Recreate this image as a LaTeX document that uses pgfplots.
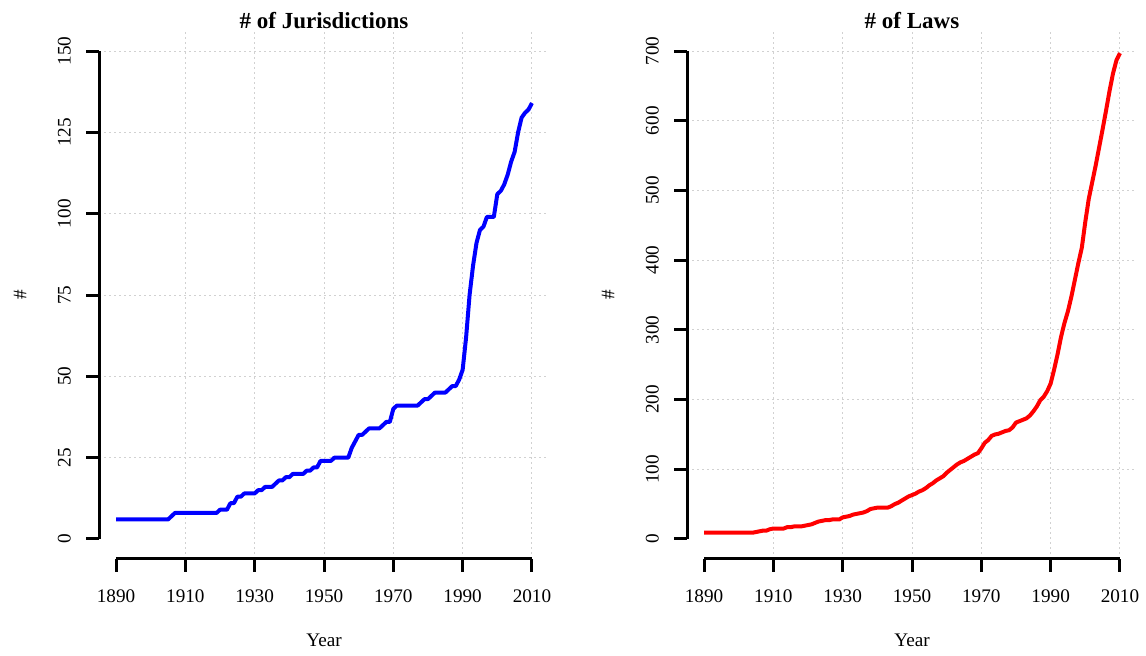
\documentclass[border=0pt]{standalone}
\usepackage{pgfplots}
\pgfplotsset{compat=1.18}
\usepackage{pgfplotstable}
\usepackage{fontspec}
\setmainfont{Liberation Serif}

\pgfplotstableread{
year val
1890 6
1905 6
1906 7
1907 8
1919 8
1920 9
1922 9
1923 11
1924 11
1925 13
1926 13
1927 14
1930 14
1931 15
1932 15
1933 16
1935 16
1936 17
1937 18
1938 18
1939 19
1940 19
1941 20
1944 20
1945 21
1946 21
1947 22
1948 22
1949 24
1952 24
1953 25
1957 25
1958 28
1959 30
1960 32
1961 32
1962 33
1963 34
1966 34
1967 35
1968 36
1969 36
1970 40
1971 41
1977 41
1978 42
1979 43
1980 43
1981 44
1982 45
1985 45
1986 46
1987 47
1988 47
1989 49
1990 52
1991 62
1992 75
1993 84
1994 91
1995 95
1996 96
1997 99
1998 99
1999 99
2000 106
2001 107
2002 109
2003 112
2004 116
2005 119
2006 125
2007 129.5
2008 131
2009 132
2010 134
}\jur

\pgfplotstableread{
year val
1890 9
1904 9
1905 10
1906 11
1907 12
1908 12
1909 14
1910 15
1913 15
1914 17
1915 17
1916 18
1918 18
1919 19
1920 20
1921 21
1922 23
1923 25
1924 26
1925 27
1926 27
1927 28
1929 28
1930 31
1931 32
1932 33
1933 35
1934 36
1935 37
1936 38
1937 40
1938 43
1939 44
1940 45
1943 45
1944 47
1945 50
1946 52
1947 55
1948 58
1949 61
1950 63
1951 65
1952 68
1953 70
1954 73
1955 77
1956 80
1957 84
1958 87
1959 90
1960 95
1961 99
1962 103
1963 107
1964 110
1965 112
1966 115
1967 118
1968 121
1969 123
1970 130
1971 138
1972 142
1973 148
1974 150
1975 151
1976 153
1977 155
1978 156
1979 160
1980 167
1981 169
1982 171
1983 173
1984 177
1985 183
1986 190
1987 199
1988 204
1989 212
1990 223
1991 243
1992 265
1993 290
1994 310
1995 327
1996 348
1997 372
1998 396
1999 418
2000 455
2001 488
2002 512
2003 536
2004 562
2005 588
2006 615
2007 643
2008 668
2009 687
2010 697
}\laws

\pgfplotsset{
  rstyle/.style={
    scale only axis, width=224.6pt, height=263.5pt,
    xmin=1885.2, xmax=2014.8,
    axis lines*=left, axis line style={draw=none},
    xtick={1890,1910,...,2010},
    minor xtick={1910,1930,...,2010},
    tick align=outside, major tick length=6.5pt, minor tick length=0pt,
    every tick/.style={black, line width=1.5pt},
    xminorgrids=true, yminorgrids=true,
    minor grid style={black!18, line width=0.5pt, dash pattern=on 1pt off 1.5pt},
    /pgf/number format/assume math mode=true,
    /pgf/number format/1000 sep={},
    font=\fontsize{9.6}{11}\selectfont,
    xticklabel style={anchor=center, yshift=-12.5pt},
    yticklabel style={xshift=-11pt, rotate=90, anchor=center},
    every axis title/.style={at={(0.5,1)}, anchor=base, inner sep=0pt, yshift=1.3pt,
      font=\bfseries\fontsize{11.5}{13}\selectfont},
    every axis x label/.style={at={(axis description cs:0.5,-0.1547)}, anchor=center},
    every axis y label/.style={at={(axis description cs:-0.1768,0.5)}, anchor=center, rotate=90},
    xlabel={Year}, ylabel={\#},
    clip=false,
  }
}

\begin{document}
\begin{tikzpicture}
\useasboundingbox (0,0) rectangle (573pt,327.5pt);
\begin{axis}[rstyle, at={(49.7pt,48.25pt)}, anchor=south west,
  ymin=-6, ymax=156, ytick={0,25,...,150}, minor ytick={25,50,...,150},
  title={\# of Jurisdictions}]
  \draw[line width=1.5pt] (axis cs:1890,-6) -- (axis cs:2010,-6);
  \draw[line width=1.5pt] (axis cs:1885.2,0) -- (axis cs:1885.2,150);
  \addplot[blue, line width=2pt, line join=round, no marks] table[x=year,y=val]{\jur};
\end{axis}
\begin{axis}[rstyle, at={(343.7pt,48.25pt)}, anchor=south west,
  ymin=-28, ymax=728, ytick={0,100,...,700}, minor ytick={100,200,...,700},
  title={\# of Laws}]
  \draw[line width=1.5pt] (axis cs:1890,-28) -- (axis cs:2010,-28);
  \draw[line width=1.5pt] (axis cs:1885.2,0) -- (axis cs:1885.2,700);
  \addplot[red, line width=2pt, line join=round, no marks] table[x=year,y=val]{\laws};
\end{axis}
\end{tikzpicture}
\end{document}
